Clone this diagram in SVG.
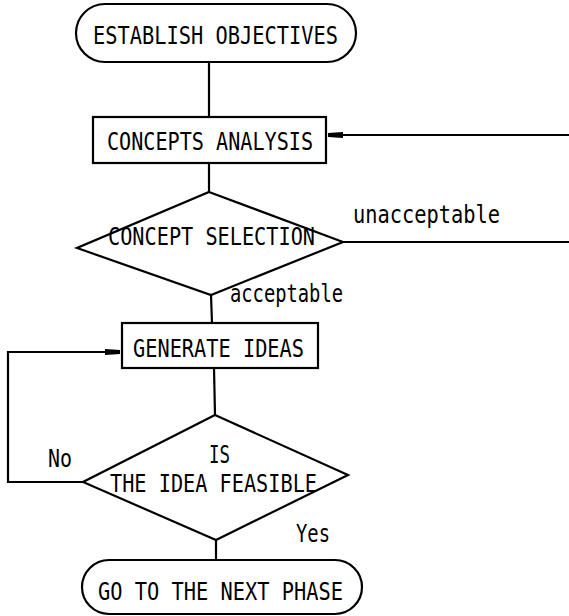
<svg xmlns="http://www.w3.org/2000/svg" width="569" height="616" viewBox="0 0 569 616">
<style>
.s{fill:none;stroke:#000;stroke-width:2.2}
.b{fill:#fff;stroke:#000;stroke-width:2.2}
text{font-family:"DejaVu Sans Mono","Liberation Mono",monospace;font-size:25px;fill:#000}
</style>
<defs>
<marker id="ah" markerWidth="16" markerHeight="8" refX="15" refY="4" orient="auto" markerUnits="userSpaceOnUse">
<path d="M0,1 L15,2 L15,6 L0,7 Z" fill="#000"/>
</marker>
</defs>
<rect width="569" height="616" fill="#fff"/>
<g id="connectors">
<line class="s" x1="209" y1="62" x2="209" y2="117"/>
<line class="s" x1="569" y1="135" x2="328" y2="135" marker-end="url(#ah)"/>
<line class="s" x1="209" y1="163" x2="209" y2="192"/>
<line class="s" x1="343" y1="242" x2="569" y2="242"/>
<line class="s" x1="211" y1="295" x2="212" y2="323"/>
<polyline class="s" points="83,482 8,482 8,352 120,352" marker-end="url(#ah)"/>
<line class="s" x1="214" y1="368" x2="215" y2="415"/>
<line class="s" x1="216" y1="540" x2="216" y2="560"/>
<text x="353" y="223" textLength="147" lengthAdjust="spacingAndGlyphs">unacceptable</text>
<text x="230" y="302" textLength="113" lengthAdjust="spacingAndGlyphs">acceptable</text>
<text x="48" y="467" textLength="24" lengthAdjust="spacingAndGlyphs">No</text>
<text x="296" y="542" textLength="34" lengthAdjust="spacingAndGlyphs">Yes</text>
</g>
<g id="establish">
<rect class="b" x="76" y="4" width="280" height="58" rx="29"/>
<text x="93" y="44" textLength="245" lengthAdjust="spacingAndGlyphs">ESTABLISH OBJECTIVES</text>
</g>
<g id="concepts-analysis">
<rect class="b" x="93" y="117" width="233" height="46"/>
<text x="107" y="150" textLength="206" lengthAdjust="spacingAndGlyphs">CONCEPTS ANALYSIS</text>
</g>
<g id="concept-selection">
<polygon class="b" points="209,192 343,242 211,295 77,248"/>
<text x="108" y="245" textLength="207" lengthAdjust="spacingAndGlyphs">CONCEPT SELECTION</text>
</g>
<g id="generate-ideas">
<rect class="b" x="122" y="323" width="196" height="45"/>
<text x="133" y="357" textLength="171" lengthAdjust="spacingAndGlyphs">GENERATE IDEAS</text>
</g>
<g id="feasible">
<polygon class="b" points="215,415 348,475 216,540 83,482"/>
<text x="209" y="463" textLength="21" lengthAdjust="spacingAndGlyphs">IS</text>
<text x="110" y="492" textLength="207" lengthAdjust="spacingAndGlyphs">THE IDEA FEASIBLE</text>
</g>
<g id="next-phase">
<rect class="b" x="82" y="560" width="280" height="54" rx="27"/>
<text x="98" y="600" textLength="245" lengthAdjust="spacingAndGlyphs">GO TO THE NEXT PHASE</text>
</g>
</svg>
